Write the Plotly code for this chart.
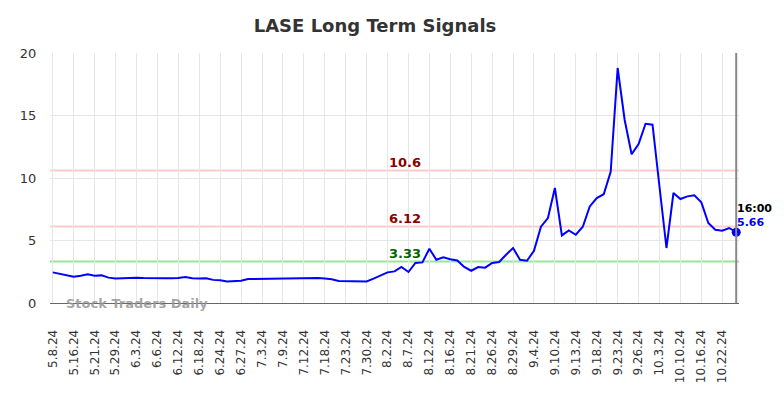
import plotly.graph_objects as go

tick_labels = ["5.8.24", "5.16.24", "5.21.24", "5.29.24", "6.3.24", "6.6.24", "6.12.24",
               "6.18.24", "6.24.24", "6.27.24", "7.3.24", "7.9.24", "7.12.24", "7.18.24",
               "7.23.24", "7.30.24", "8.2.24", "8.7.24", "8.12.24", "8.16.24", "8.21.24",
               "8.26.24", "8.29.24", "9.4.24", "9.10.24", "9.13.24", "9.18.24", "9.23.24",
               "9.26.24", "10.3.24", "10.10.24", "10.16.24", "10.22.24"]
points_per_tick = 3

prices = [2.45, 2.34, 2.21, 2.10, 2.18, 2.29, 2.18, 2.21, 2.03, 1.97,
          1.98, 2.03, 2.02, 2.00, 1.98, 2.00, 1.98, 1.99, 2.00, 2.08,
          1.98, 1.97, 1.98, 1.85, 1.82, 1.73, 1.73, 1.78, 1.92, 1.93,
          1.90, 1.96, 1.94, 1.97, 1.95, 1.96, 1.98, 2.00, 2.00, 1.96,
          1.90, 1.76, 1.75, 1.73, 1.75, 1.73, 1.95, 2.20, 2.45, 2.53,
          2.88, 2.48, 3.20, 3.25, 4.34, 3.46, 3.65, 3.50, 3.40, 2.88,
          2.58, 2.88, 2.83, 3.20, 3.28, 3.86, 4.40, 3.46, 3.38, 4.18,
          6.10, 6.80, 9.20, 5.41, 5.81, 5.46, 6.10, 7.73, 8.40, 8.70,
          10.50, 18.80, 14.66, 11.90, 12.72, 14.34, 14.26, 9.30, 4.40, 8.80,
          8.32, 8.53, 8.61, 8.05, 6.40, 5.86, 5.78, 6.00, 5.66]

signal_levels = [10.6, 6.12, 3.33]
signal_labels = ["10.6", "6.12", "3.33"]
signal_line_colors = ["#ffcccc", "#ffcccc", "#99e699"]
signal_text_colors = ["#8b0000", "#8b0000", "#006400"]
last_time = "16:00"

FONT = "DejaVu Sans"
x = list(range(len(prices)))
last_i = x[-1]

fig = go.Figure()

for lvl, col in zip(signal_levels, signal_line_colors):
    fig.add_shape(type="line", xref="paper", x0=0, x1=1, yref="y", y0=lvl, y1=lvl,
                  line=dict(color=col, width=2), layer="below")

fig.add_shape(type="line", xref="x", x0=last_i, x1=last_i, yref="paper", y0=0, y1=1,
              line=dict(color="#888888", width=2))

fig.add_trace(go.Scatter(x=x, y=prices, mode="lines",
                         line=dict(color="#0000ff", width=2), hoverinfo="skip"))
fig.add_trace(go.Scatter(x=[last_i], y=[prices[-1]], mode="markers", cliponaxis=False,
                         marker=dict(color="#0000ff", size=9), hoverinfo="skip"))

mid = (len(prices) - 1) * 0.515
for lvl, lab, tc in zip(signal_levels, signal_labels, signal_text_colors):
    fig.add_annotation(x=mid, y=lvl, text="<b>%s</b>" % lab, showarrow=False,
                       yshift=8, font=dict(family=FONT, size=13, color=tc))

fig.add_annotation(x=last_i, y=prices[-1], text="<b>%s</b>" % last_time, showarrow=False,
                   xanchor="left", xshift=-1, yshift=24,
                   font=dict(family=FONT, size=11, color="#000000"))
fig.add_annotation(x=last_i, y=prices[-1], text="<b>%.2f</b>" % prices[-1], showarrow=False,
                   xanchor="left", xshift=-1, yshift=10,
                   font=dict(family=FONT, size=11, color="#0000ff"))

fig.add_annotation(xref="paper", yref="y", x=0.021, y=0, text="<b>Stock Traders Daily</b>",
                   showarrow=False, xanchor="left", yanchor="middle",
                   font=dict(family=FONT, size=13, color="rgba(150,150,150,0.85)"))

fig.update_layout(
    width=776, height=390,
    margin=dict(l=31, r=45, t=45, b=95),
    paper_bgcolor="white", plot_bgcolor="white",
    showlegend=False,
    title=dict(text="<b>LASE Long Term Signals</b>", xref="container", x=367 / 776,
               xanchor="center", y=1 - 18 / 390, yanchor="middle",
               font=dict(family=FONT, size=18, color="#333333")),
    font=dict(family=FONT, color="#333333"),
)
fig.update_xaxes(
    range=[-0.4, last_i + 0.4],
    tickmode="array",
    tickvals=[i * points_per_tick for i in range(len(tick_labels))],
    ticktext=tick_labels,
    tickangle=-90,
    tickfont=dict(family=FONT, size=12, color="#333333"),
    ticks="outside", ticklen=21, tickcolor="rgba(0,0,0,0)",
    showgrid=True, gridcolor="#e6e6e6", gridwidth=1,
    showline=True, linecolor="#666666", linewidth=1,
    zeroline=False,
)
fig.update_yaxes(
    range=[0, 20],
    tickvals=[0, 5, 10, 15, 20],
    tickfont=dict(family=FONT, size=13, color="#333333"),
    ticks="outside", ticklen=10, tickcolor="rgba(0,0,0,0)",
    showgrid=True, gridcolor="#e6e6e6", gridwidth=1,
    showline=False, zeroline=False,
)

fig.write_html("out.html")
